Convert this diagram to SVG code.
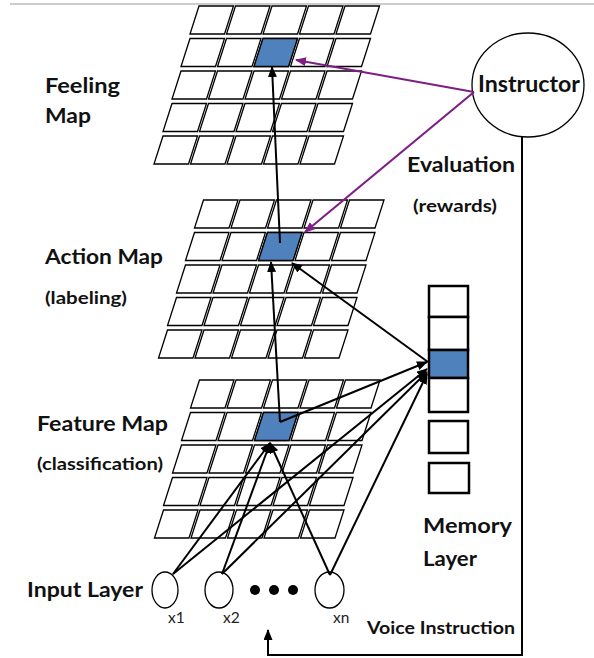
<svg xmlns="http://www.w3.org/2000/svg" xmlns:xlink="http://www.w3.org/1999/xlink" width="594" height="658" viewBox="0 0 594 658">
<style>
.cell{fill:#fff;stroke:#000;stroke-width:1.3}
.blue{fill:#4F81BD;stroke:#000;stroke-width:1.3}
.lbl{font-family:Lato,"Open Sans",sans-serif;font-weight:bold;fill:#111}
.big{font-size:21px}
.small{font-size:16.5px}
.xl{font-family:Lato,"Open Sans",sans-serif;font-size:15.5px;fill:#222}
.con{stroke:#000;stroke-width:2;fill:none}
.pur{stroke:#7E1F86;stroke-width:2.2;fill:none}
.mem{fill:#fff;stroke:#000;stroke-width:2.5}
</style>
<defs>
<polygon id="c" points="0,0 34.5,0 25.5,28 -9,28"/>
<g id="grid" class="cell">
<use xlink:href="#c" x="0" y="0"/><use xlink:href="#c" x="36.5" y="0"/><use xlink:href="#c" x="73" y="0"/><use xlink:href="#c" x="109.5" y="0"/><use xlink:href="#c" x="146" y="0"/>
<use xlink:href="#c" x="-9" y="32.5"/><use xlink:href="#c" x="27.5" y="32.5"/><use xlink:href="#c" x="64" y="32.5"/><use xlink:href="#c" x="100.5" y="32.5"/><use xlink:href="#c" x="137" y="32.5"/>
<use xlink:href="#c" x="-18" y="65"/><use xlink:href="#c" x="18.5" y="65"/><use xlink:href="#c" x="55" y="65"/><use xlink:href="#c" x="91.5" y="65"/><use xlink:href="#c" x="128" y="65"/>
<use xlink:href="#c" x="-27" y="97.5"/><use xlink:href="#c" x="9.5" y="97.5"/><use xlink:href="#c" x="46" y="97.5"/><use xlink:href="#c" x="82.5" y="97.5"/><use xlink:href="#c" x="119" y="97.5"/>
<use xlink:href="#c" x="-36" y="130"/><use xlink:href="#c" x="0.5" y="130"/><use xlink:href="#c" x="37" y="130"/><use xlink:href="#c" x="73.5" y="130"/><use xlink:href="#c" x="110" y="130"/>
</g>
<marker id="ah" markerUnits="userSpaceOnUse" markerWidth="11" markerHeight="9" refX="10" refY="4.5" orient="auto"><path d="M0,0 L11,4.5 L0,9 z" fill="#000"/></marker>
<marker id="ap" markerUnits="userSpaceOnUse" markerWidth="11" markerHeight="9" refX="10" refY="4.5" orient="auto"><path d="M0,0 L11,4.5 L0,9 z" fill="#7E1F86"/></marker>
</defs>
<rect width="594" height="658" fill="#fff"/>
<line x1="10" y1="4" x2="594" y2="4" stroke="#999" stroke-width="1"/>

<g id="feeling-map" transform="translate(199,6)">
<use xlink:href="#grid"/>
<use xlink:href="#c" x="64" y="32.5" class="blue"/>
</g>
<g id="action-map" transform="translate(203.5,200)">
<use xlink:href="#grid"/>
<use xlink:href="#c" x="64" y="32.5" class="blue"/>
</g>
<g id="feature-map" transform="translate(199.5,380)">
<use xlink:href="#grid"/>
<use xlink:href="#c" x="64" y="32.5" class="blue"/>
</g>

<g id="memory-layer">
<rect class="mem" x="429" y="286" width="39" height="31"/>
<rect class="mem" x="429" y="317" width="39" height="33"/>
<rect x="429" y="350" width="39" height="28" fill="#4F81BD" stroke="#000" stroke-width="2.5"/>
<rect class="mem" x="429" y="378" width="39" height="34"/>
<rect class="mem" x="429" y="421" width="39" height="32"/>
<rect class="mem" x="429" y="463" width="40" height="30"/>
</g>

<g id="instructor">
<ellipse cx="528" cy="85" rx="56" ry="52" fill="#fff" stroke="#000" stroke-width="1.3"/>
<text class="lbl" x="478" y="92" font-size="22" textLength="102" lengthAdjust="spacingAndGlyphs">Instructor</text>
</g>

<g id="inputs">
<ellipse cx="165" cy="590" rx="13" ry="18" fill="#fff" stroke="#000" stroke-width="1.3"/>
<ellipse cx="219" cy="590" rx="14" ry="18" fill="#fff" stroke="#000" stroke-width="1.3"/>
<ellipse cx="329.5" cy="590" rx="14.5" ry="18" fill="#fff" stroke="#000" stroke-width="1.3"/>
<circle cx="255" cy="590" r="5"/>
<circle cx="274" cy="590" r="5"/>
<circle cx="293" cy="590" r="5"/>
<text class="xl" x="168" y="623">x1</text>
<text class="xl" x="223" y="623">x2</text>
<text class="xl" x="333" y="623">xn</text>
</g>

<g id="connectors">
<line class="con" x1="280" y1="243" x2="272" y2="67" marker-end="url(#ah)"/>
<line class="con" x1="280" y1="422" x2="271" y2="262" marker-end="url(#ah)"/>
<line class="con" x1="428" y1="362" x2="292" y2="263" marker-end="url(#ah)"/>
<line class="con" x1="280" y1="422" x2="427" y2="362" marker-end="url(#ah)"/>
<line class="con" x1="173" y1="574" x2="270" y2="443" marker-end="url(#ah)"/>
<line class="con" x1="222" y1="574" x2="270" y2="443" marker-end="url(#ah)"/>
<line class="con" x1="330" y1="575" x2="270" y2="443" marker-end="url(#ah)"/>
<line class="con" x1="173" y1="574" x2="427" y2="369" marker-end="url(#ah)"/>
<line class="con" x1="222" y1="574" x2="427" y2="372" marker-end="url(#ah)"/>
<line class="con" x1="330" y1="575" x2="427" y2="374" marker-end="url(#ah)"/>
<line class="pur" x1="474" y1="92" x2="296" y2="60" marker-end="url(#ap)"/>
<line class="pur" x1="474" y1="92" x2="305" y2="232" marker-end="url(#ap)"/>
<path class="con" d="M522,137 V655 H268 V630" marker-end="url(#ah)"/>
</g>

<g id="labels">
<text class="lbl big" x="45" y="93" textLength="75" lengthAdjust="spacingAndGlyphs">Feeling</text>
<text class="lbl big" x="45" y="123" textLength="46" lengthAdjust="spacingAndGlyphs">Map</text>
<text class="lbl big" x="45" y="264" textLength="118" lengthAdjust="spacingAndGlyphs">Action Map</text>
<text class="lbl small" x="45" y="304" textLength="82" lengthAdjust="spacingAndGlyphs">(labeling)</text>
<text class="lbl big" x="37" y="431" textLength="131" lengthAdjust="spacingAndGlyphs">Feature Map</text>
<text class="lbl small" x="37" y="470" textLength="126" lengthAdjust="spacingAndGlyphs">(classification)</text>
<text class="lbl big" x="407" y="172" textLength="108" lengthAdjust="spacingAndGlyphs">Evaluation</text>
<text class="lbl small" x="413" y="212" textLength="84" lengthAdjust="spacingAndGlyphs">(rewards)</text>
<text class="lbl big" x="423" y="533" textLength="89" lengthAdjust="spacingAndGlyphs">Memory</text>
<text class="lbl big" x="423" y="566" textLength="54" lengthAdjust="spacingAndGlyphs">Layer</text>
<text class="lbl big" x="27" y="597" textLength="116" lengthAdjust="spacingAndGlyphs">Input Layer</text>
<text class="lbl small" x="367" y="634" textLength="148" lengthAdjust="spacingAndGlyphs">Voice Instruction</text>
</g>
</svg>
